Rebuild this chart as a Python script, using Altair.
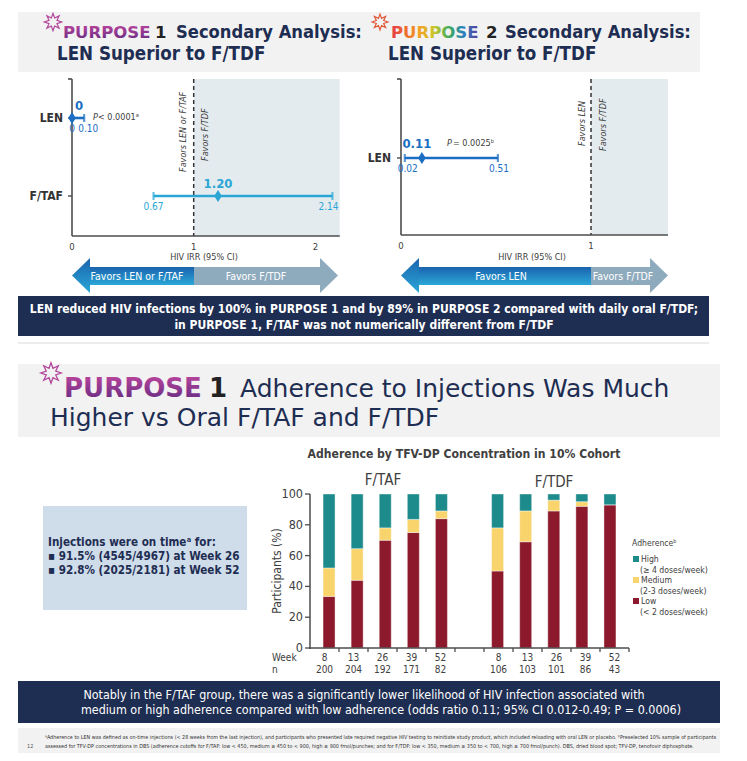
import math
import altair as alt
import pandas as pd

FONT = "DejaVu Sans Condensed"
WIDE = "DejaVu Sans"
NAVY = "#1e2d52"
GTXT = "#404040"
AXC = "#4d4d4d"
SHADE = "#e4ebef"
W, H = 731, 745
one = pd.DataFrame({"z": [0]})

# ---------------- data ----------------
p1_arms = ["LEN", "F/TAF"]
p1_est = [0.0, 1.20]
p1_lo = [0.0, 0.67]
p1_hi = [0.10, 2.14]
p1_est_lbl = ["0", "1.20"]
p1_lo_lbl = ["0", "0.67"]
p1_hi_lbl = ["0.10", "2.14"]
p1_colors = ["#1b6ec2", "#2aa6d5"]
p1_ticks = [0, 1, 2]

p2_arms = ["LEN"]
p2_est = [0.11]
p2_lo = [0.02]
p2_hi = [0.51]
p2_est_lbl = ["0.11"]
p2_lo_lbl = ["0.02"]
p2_hi_lbl = ["0.51"]
p2_colors = ["#1b6ec2"]
p2_ticks = [0, 1]

weeks = ["8", "13", "26", "39", "52"]
taf_n = [200, 204, 192, 171, 82]
tdf_n = [106, 103, 101, 86, 43]
taf_low = [33.5, 44.0, 70.0, 75.0, 84.0]
taf_med = [18.5, 20.5, 8.0, 8.5, 5.0]
taf_high = [48.0, 35.5, 22.0, 16.5, 11.0]
tdf_low = [50.0, 69.0, 89.0, 92.0, 93.0]
tdf_med = [28.0, 20.0, 7.0, 3.0, 0.0]
tdf_high = [22.0, 11.0, 4.0, 5.0, 7.0]
levels = ["High", "Medium", "Low"]
level_sub = ["(≥ 4 doses/week)", "(2-3 doses/week)", "(< 2 doses/week)"]
level_colors = ["#1d8a8c", "#f9d46c", "#8c1a2c"]
y_ticks = [0, 20, 40, 60, 80, 100]


def cx(v):
    return v - 8


def cy(v):
    return v - 8


def T(s, x, y, size, color=GTXT, weight="normal", align="left", baseline="middle",
      angle=0, style="normal", font=FONT):
    mk = dict(text=s, fontSize=size, color=color, fontWeight=weight, align=align,
              baseline=baseline, fontStyle=style, font=font)
    if angle:
        mk["angle"] = angle
    return alt.Chart(one).mark_text(**mk).encode(x=alt.value(cx(x)), y=alt.value(cy(y)))


def R(x1, y1, x2, y2, color):
    return alt.Chart(one).mark_rect(color=color).encode(
        x=alt.value(cx(x1)), x2=alt.value(cx(x2)), y=alt.value(cy(y1)), y2=alt.value(cy(y2)))


def L(x1, y1, x2, y2, color, w=1.0, dash=None):
    mk = dict(color=color, strokeWidth=w)
    if dash:
        mk["strokeDash"] = dash
    return alt.Chart(one).mark_rule(**mk).encode(
        x=alt.value(cx(x1)), x2=alt.value(cx(x2)), y=alt.value(cy(y1)), y2=alt.value(cy(y2)))


def SYM(path, x, y, size, color, filled=True, sw=1.0):
    return alt.Chart(one).mark_point(shape=path, size=size, filled=filled, color=color,
                                     opacity=1, strokeWidth=sw).encode(
        x=alt.value(cx(x)), y=alt.value(cy(y)))


def VG(c1, c2):
    return alt.LinearGradient(gradient="linear",
                              stops=[alt.GradientStop(color=c1, offset=0),
                                     alt.GradientStop(color=c2, offset=1)],
                              x1=0, x2=0, y1=0, y2=1)


def HG(colors):
    n = len(colors) - 1
    return alt.LinearGradient(gradient="linear",
                              stops=[alt.GradientStop(color=c, offset=i / n) for i, c in enumerate(colors)],
                              x1=0, x2=1, y1=0, y2=0)


pts = []
for k in range(16):
    r = 1.0 if k % 2 == 0 else 0.5
    a = math.pi * k / 8 - math.pi / 2
    pts.append(f"{r*math.cos(a):.3f},{r*math.sin(a):.3f}")
STAR = "M" + " L".join(pts) + " Z"
DIAM = "M0,-1 L0.62,0 L0,1 L-0.62,0 Z"
HEAD_L = "M-0.514,0 L0.514,-1 L0.514,1 Z"
HEAD_R = "M0.514,0 L-0.514,-1 L-0.514,1 Z"

P1_GRAD = VG("#c2469f", "#5f2a80")
P2_GRAD = HG(["#e5394a", "#ee6a2a", "#f3a324", "#c7c82e", "#3dab5b", "#2b7fc0", "#5b3d96"])
BLUE_GRAD = VG("#1a63ad", "#2aa7d8")
GRAYBLUE = "#8eaabd"

layers = []

# ---------------- top title box ----------------
layers.append(R(18, 12, 700, 72, "#f2f2f2"))
layers.append(SYM(STAR, 53, 22, 300, "#b3479c", filled=False, sw=1.2))
layers.append(T("PURPOSE", 63, 38, 16.5, color=P1_GRAD, weight="bold", baseline="alphabetic", font=WIDE))
layers.append(T("1", 155, 38, 16.5, color="#222222", weight="bold", baseline="alphabetic", font=WIDE))
layers.append(T("Secondary Analysis:", 176, 38, 18.2, color=NAVY, weight="bold", baseline="alphabetic"))
layers.append(T("LEN Superior to F/TDF", 57, 60, 18.6, color=NAVY, weight="bold", baseline="alphabetic"))

layers.append(SYM(STAR, 380, 22, 250, "#e05a3a", filled=False, sw=1.2))
layers.append(T("PURPOSE", 391, 38, 16.5, color=P2_GRAD, weight="bold", baseline="alphabetic", font=WIDE))
layers.append(T("2", 486, 38, 16.5, color="#222222", weight="bold", baseline="alphabetic", font=WIDE))
layers.append(T("Secondary Analysis:", 505, 38, 18.2, color=NAVY, weight="bold", baseline="alphabetic"))
layers.append(T("LEN Superior to F/TDF", 388, 60, 18.6, color=NAVY, weight="bold", baseline="alphabetic"))


# ---------------- forest plots ----------------
def forest(arms, est, lo, hi, est_l, lo_l, hi_l, colors, ticks, x0px, unit, xmax,
           row_px, ytop, ybot, lab_x, est_dx, lo_dx, hi_dx, est_dy):
    df = pd.DataFrame({"arm": arms, "row": list(range(len(arms))), "est": est, "lo": lo, "hi": hi,
                       "est_l": est_l, "lo_l": lo_l, "hi_l": hi_l, "color": colors})
    sx = alt.Scale(domain=[0, xmax], range=[cx(x0px), cx(x0px + xmax * unit)], nice=False, zero=False)
    sy = alt.Scale(domain=[0, 1], range=[cy(row_px[0]), cy(row_px[1])], nice=False, zero=False)
    X = lambda f: alt.X(f, scale=sx, axis=None)
    Y = lambda f: alt.Y(f, scale=sy, axis=None)
    b = pd.DataFrame({"a": [0.0], "one": [1.0], "b": [xmax]})
    out = []
    out.append(alt.Chart(b).mark_rect(color=SHADE).encode(
        x=X("one:Q"), x2="b:Q", y=alt.value(cy(ytop)), y2=alt.value(cy(ybot))))
    out.append(alt.Chart(b).mark_rule(color="#333333", strokeDash=[4, 3], strokeWidth=1.5).encode(
        x=X("one:Q"), y=alt.value(cy(ytop)), y2=alt.value(cy(ybot))))
    out.append(alt.Chart(b).mark_rule(color=AXC, strokeWidth=1.6).encode(
        x=X("a:Q"), y=alt.value(cy(ytop)), y2=alt.value(cy(ybot))))
    out.append(alt.Chart(b).mark_rule(color=AXC, strokeWidth=1.6).encode(
        x=X("a:Q"), x2="b:Q", y=alt.value(cy(ybot))))
    out.append(L(x0px - 4, ytop, x0px, ytop, AXC, 1.6))
    out.append(alt.Chart(df).mark_rule(color=AXC, strokeWidth=1.4).encode(
        x=alt.value(cx(x0px - 4)), x2=alt.value(cx(x0px)), y=Y("row:Q")))
    out.append(alt.Chart(df).mark_text(align="right", fontSize=12, fontWeight="bold", color="#333333",
                                       font=FONT).encode(
        x=alt.value(cx(lab_x)), y=Y("row:Q"), text="arm:N"))
    col = alt.Color("color:N", scale=None)
    out.append(alt.Chart(df).mark_rule(strokeWidth=2.6).encode(
        x=X("lo:Q"), x2="hi:Q", y=Y("row:Q"), color=col))
    out.append(alt.Chart(df).mark_tick(orient="vertical", size=8, thickness=2.2).encode(
        x=X("lo:Q"), y=Y("row:Q"), color=col))
    out.append(alt.Chart(df).mark_tick(orient="vertical", size=8, thickness=2.2).encode(
        x=X("hi:Q"), y=Y("row:Q"), color=col))
    out.append(alt.Chart(df).mark_point(shape=DIAM, size=150, filled=True, opacity=1).encode(
        x=X("est:Q"), y=Y("row:Q"), color=col))
    for i in range(len(arms)):
        d = df.iloc[[i]]
        out.append(alt.Chart(d).mark_text(fontSize=13, fontWeight="bold", dx=est_dx[i], dy=est_dy,
                                          font=FONT).encode(
            x=X("est:Q"), y=Y("row:Q"), text="est_l:N", color=col))
        out.append(alt.Chart(d).mark_text(fontSize=10, dx=lo_dx[i], dy=11, font=FONT).encode(
            x=X("lo:Q"), y=Y("row:Q"), text="lo_l:N", color=col))
        out.append(alt.Chart(d).mark_text(fontSize=10, dx=hi_dx[i], dy=11, font=FONT).encode(
            x=X("hi:Q"), y=Y("row:Q"), text="hi_l:N", color=col))
    out.append(alt.Chart(pd.DataFrame({"t": ticks})).mark_text(fontSize=9.5, color=GTXT, font=FONT).encode(
        x=X("t:Q"), y=alt.value(cy(ybot + 11)), text="t:Q"))
    return out


layers += forest(p1_arms, p1_est, p1_lo, p1_hi, p1_est_lbl, p1_lo_lbl, p1_hi_lbl, p1_colors, p1_ticks,
                 72, 121.7, 2.2, [118, 196], 79, 236, 63, [7, 0], [0, 0], [4, -4], -12)
layers.append(T("P", 93, 117, 9, color=GTXT, style="italic"))
layers.append(T(" < 0.0001ᵃ", 98, 117, 9, color=GTXT))
layers.append(T("Favors LEN or F/TAF", 183, 172, 9, color=GTXT, style="italic", angle=270))
layers.append(T("Favors F/TDF", 205, 161, 9, color=GTXT, style="italic", angle=270))
layers.append(T("HIV IRR (95% CI)", 204, 257, 9, color=GTXT, align="center"))

layers += forest(p2_arms, p2_est, p2_lo, p2_hi, p2_est_lbl, p2_lo_lbl, p2_hi_lbl, p2_colors, p2_ticks,
                 401, 190.0, 1.405, [158, 236], 79, 235, 391, [-5], [3], [1], -14)
layers.append(T("P", 447, 143, 9, color=GTXT, style="italic"))
layers.append(T(" = 0.0025ᵇ", 453, 143, 9, color=GTXT))
layers.append(T("Favors LEN", 582, 146, 9, color=GTXT, style="italic", angle=270))
layers.append(T("Favors F/TDF", 603, 151, 9, color=GTXT, style="italic", angle=270))
layers.append(T("HIV IRR (95% CI)", 532, 257, 9, color=GTXT, align="center"))


# ---------------- arrows ----------------
def arrow(xl, split, xr, lbl_l, lbl_r, cl, cr):
    out = []
    out.append(R(xl + 18, 267, split, 285, BLUE_GRAD))
    out.append(R(split, 267, xr - 18, 285, GRAYBLUE))
    out.append(SYM(HEAD_L, xl + 9, 275.5, 1225, BLUE_GRAD))
    out.append(SYM(HEAD_R, xr - 9, 275.5, 1225, GRAYBLUE))
    out.append(T(lbl_l, cl, 276.5, 10.5, color="white", align="center"))
    out.append(T(lbl_r, cr, 276.5, 10.5, color="white", align="center"))
    return out


layers += arrow(72, 194, 338, "Favors LEN or F/TAF", "Favors F/TDF", 137, 256)
layers += arrow(401, 591, 668, "Favors LEN", "Favors F/TDF", 501, 623)

# ---------------- top banner ----------------
layers.append(R(18, 296, 709, 336, NAVY))
layers.append(T("LEN reduced HIV infections by 100% in PURPOSE 1 and by 89% in PURPOSE 2 compared with daily oral F/TDF;",
                364, 309, 12, color="white", weight="bold", align="center"))
layers.append(T("in PURPOSE 1, F/TAF was not numerically different from F/TDF",
                364, 325, 12, color="white", weight="bold", align="center"))
layers.append(L(18, 343, 709, 343, "#ececec", 2))

# ---------------- bottom title ----------------
layers.append(R(18, 364, 720, 437, "#f2f2f2"))
layers.append(SYM(STAR, 51, 373, 420, "#b3479c", filled=False, sw=1.3))
layers.append(T("PURPOSE", 64, 397, 26, color=P1_GRAD, weight="bold", baseline="alphabetic", font=WIDE))
layers.append(T("1", 209, 397, 26, color="#222222", weight="bold", baseline="alphabetic", font=WIDE))
layers.append(T("Adherence to Injections Was Much", 240, 397, 25, color=NAVY, baseline="alphabetic", font=WIDE))
layers.append(T("Higher vs Oral F/TAF and F/TDF", 50, 426, 25, color=NAVY, baseline="alphabetic", font=WIDE))

# ---------------- info box ----------------
layers.append(R(43, 506, 247, 610, "#cfdcea"))
layers.append(T("Injections were on timeᵃ for:", 48, 543, 11.6, color=NAVY, weight="bold"))
layers.append(T("▪  91.5% (4545/4967) at Week 26", 48, 557, 11.6, color=NAVY, weight="bold"))
layers.append(T("▪  92.8% (2025/2181) at Week 52", 48, 571, 11.6, color=NAVY, weight="bold"))

# ---------------- stacked bars ----------------
rows = []
for gi, (lows, meds, highs, ns) in enumerate([(taf_low, taf_med, taf_high, taf_n),
                                               (tdf_low, tdf_med, tdf_high, tdf_n)]):
    for j, w in enumerate(weeks):
        slot = j + gi * 6
        for lv, val, o in (("Low", lows[j], 0), ("Medium", meds[j], 1), ("High", highs[j], 2)):
            rows.append({"slot": slot, "week": w, "n": ns[j], "level": lv, "pct": val, "ord": o})
bars = pd.DataFrame(rows)
cats = bars.drop_duplicates("slot")[["slot", "week", "n"]]

bx = alt.Scale(domain=[-0.5, 10.5], range=[cx(310), cx(629)], nice=False, zero=False)
by = alt.Scale(domain=[0, 100], range=[cy(648), cy(494)], nice=False, zero=False)
cscale = alt.Scale(domain=levels, range=level_colors)

layers.append(T("Adherence by TFV-DP Concentration in 10% Cohort", 464, 454, 12.1, color=GTXT, weight="bold",
                align="center"))
layers.append(T("F/TAF", 383, 480, 15, color=GTXT, align="center"))
layers.append(T("F/TDF", 554, 482, 15, color=GTXT, align="center"))

layers.append(alt.Chart(bars).mark_bar(size=12, stroke="white", strokeWidth=0.4).encode(
    x=alt.X("slot:Q", scale=bx, axis=None),
    y=alt.Y("pct:Q", stack="zero", scale=by, axis=None),
    color=alt.Color("level:N", scale=cscale, legend=None),
    order=alt.Order("ord:Q")))

layers.append(L(310, 494, 310, 649, AXC, 1.5))
layers.append(L(309, 648, 629, 648, AXC, 1.5))
ydf = pd.DataFrame({"t": y_ticks})
layers.append(alt.Chart(ydf).mark_rule(color=AXC, strokeWidth=1.3).encode(
    x=alt.value(cx(305)), x2=alt.value(cx(310)), y=alt.Y("t:Q", scale=by, axis=None)))
layers.append(alt.Chart(ydf).mark_text(align="right", fontSize=12.5, color=GTXT, font=FONT).encode(
    x=alt.value(cx(303)), y=alt.Y("t:Q", scale=by, axis=None), text="t:Q"))
bdf = pd.DataFrame({"b": [i + 0.5 for i in range(11)]})
layers.append(alt.Chart(bdf).mark_rule(color=AXC, strokeWidth=1.3).encode(
    x=alt.X("b:Q", scale=bx, axis=None), y=alt.value(cy(648)), y2=alt.value(cy(652))))
layers.append(alt.Chart(cats).mark_text(fontSize=10, color=GTXT, font=FONT).encode(
    x=alt.X("slot:Q", scale=bx, axis=None), y=alt.value(cy(658)), text="week:N"))
layers.append(alt.Chart(cats).mark_text(fontSize=10, color=GTXT, font=FONT).encode(
    x=alt.X("slot:Q", scale=bx, axis=None), y=alt.value(cy(670)), text="n:N"))
layers.append(T("Week", 272, 658, 10, color=GTXT))
layers.append(T("n", 272, 670, 10, color=GTXT))
layers.append(T("Participants (%)", 277, 571, 12, color=GTXT, align="center", angle=270))

# legend
leg = pd.DataFrame({"level": levels, "sub": level_sub, "i": [0, 1, 2]})
ly = alt.Scale(domain=[0, 2], range=[cy(559), cy(601)], nice=False, zero=False)
layers.append(T("Adherenceᵇ", 632, 543, 8.6, color=GTXT))
layers.append(alt.Chart(leg).mark_point(shape="square", filled=True, size=36, opacity=1).encode(
    x=alt.value(cx(636)), y=alt.Y("i:Q", scale=ly, axis=None),
    color=alt.Color("level:N", scale=cscale, legend=None)))
layers.append(alt.Chart(leg).mark_text(align="left", fontSize=8.6, color=GTXT, font=FONT).encode(
    x=alt.value(cx(641)), y=alt.Y("i:Q", scale=ly, axis=None), text="level:N"))
layers.append(alt.Chart(leg).mark_text(align="left", fontSize=8.6, color=GTXT, font=FONT, dy=10.5).encode(
    x=alt.value(cx(640)), y=alt.Y("i:Q", scale=ly, axis=None), text="sub:N"))

# ---------------- bottom banner + footnote ----------------
layers.append(R(18, 681, 720, 723, NAVY))
layers.append(T("Notably in the F/TAF group, there was a significantly lower likelihood of HIV infection associated with",
                364, 695, 12.4, color="white", align="center"))
layers.append(T("medium or high adherence compared with low adherence (odds ratio 0.11; 95% CI 0.012-0.49; P = 0.0006)",
                381, 710, 12.4, color="white", align="center"))
layers.append(R(18, 728, 720, 762, "#f2f2f2"))
layers.append(T("ᵃAdherence to LEN was defined as on-time injections (< 28 weeks from the last injection), and participants who presented late required negative HIV testing to reinitiate study product, which included reloading with oral LEN or placebo. ᵇPreselected 10% sample of participants",
                45, 737, 5.4, color="#333333"))
layers.append(T("assessed for TFV-DP concentrations in DBS (adherence cutoffs for F/TAF: low < 450, medium ≥ 450 to < 900, high ≥ 900 fmol/punches; and for F/TDF: low < 350, medium ≥ 350 to < 700, high ≥ 700 fmol/punch). DBS, dried blood spot; TFV-DP, tenofovir diphosphate.",
                45, 746, 5.4, color="#333333"))
layers.append(T("12", 27, 746, 5.5, color="#555555"))

chart = alt.layer(*layers).resolve_scale(x="independent", y="independent", color="independent").properties(
    width=W, height=H, padding=0, autosize=alt.AutoSizeParams(type="none"), background="white"
).configure_view(stroke=None)

chart.save("out.html", embed_options={"renderer": "svg", "actions": False})
